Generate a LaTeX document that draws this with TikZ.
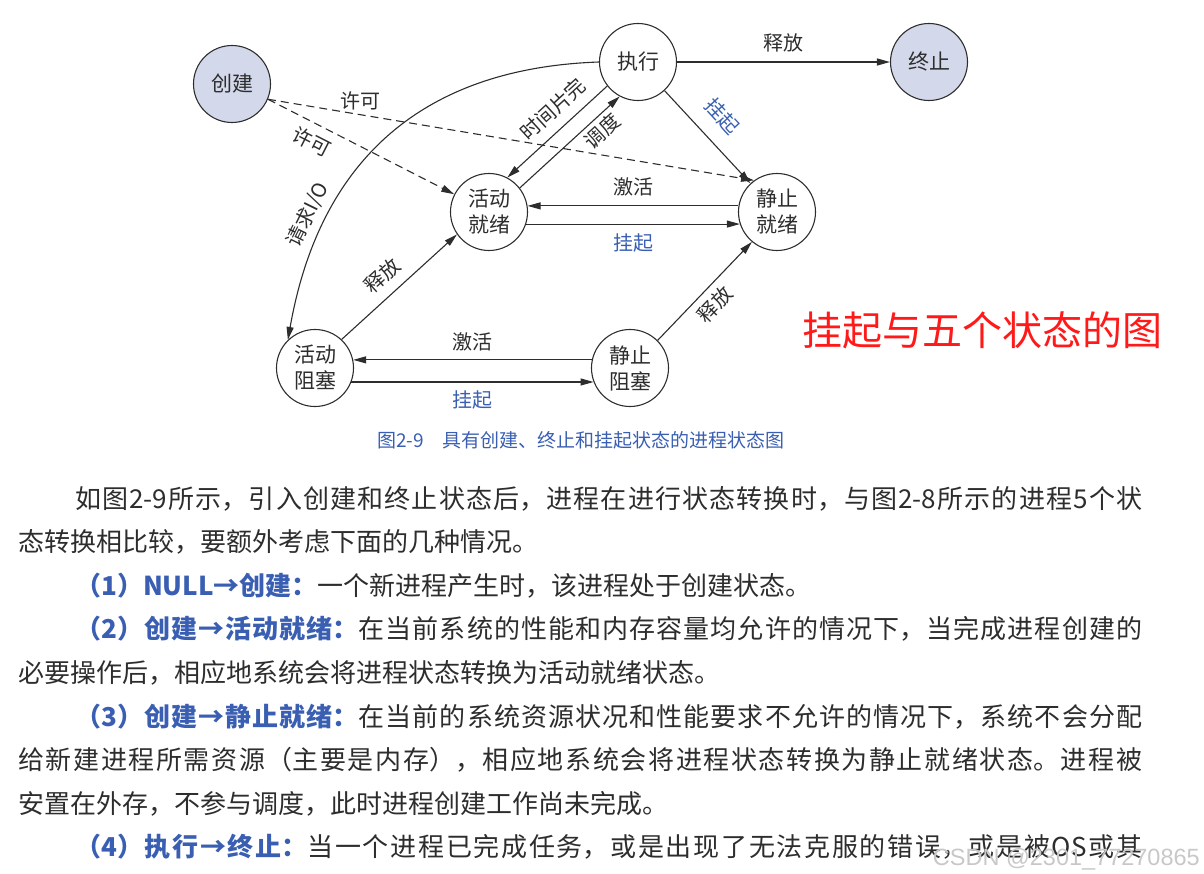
\documentclass[tikz,border=0pt]{standalone}
\usepackage{fontspec}
\setmainfont{Noto Sans CJK SC}
\newfontfamily\wmfont{Liberation Sans}
\usepackage{xcolor}
\usetikzlibrary{arrows.meta, positioning}

\XeTeXlinebreaklocale "zh"
\XeTeXlinebreakskip=0.6pt plus 4pt

\definecolor{linegray}{RGB}{45,45,45}
\definecolor{textgray}{RGB}{45,45,45}
\definecolor{nodeblue}{RGB}{211,217,235}
\definecolor{labelblue}{RGB}{58,95,178}
\definecolor{titlered}{RGB}{255,25,25}
\definecolor{wmgray}{RGB}{200,200,200}

\newcommand{\hi}[1]{{\bfseries\color{labelblue}#1}}

\begin{document}
\begin{tikzpicture}[x=1pt, y=-1pt,
    proc/.style={circle, draw=linegray, line width=1.1pt, minimum size=77pt, inner sep=0pt,
        align=center, text=textgray, font=\fontsize{21}{26}\selectfont},
    procfill/.style={proc, fill=nodeblue},
    arr/.style={draw=linegray, line width=1.1pt, -{Triangle[length=13pt,width=7pt]}},
    permit/.style={arr, dash pattern=on 8pt off 5pt},
    lab/.style={text=textgray, inner sep=1pt, font=\fontsize{20}{24}\selectfont},
    blab/.style={lab, text=labelblue},
    riga/.style={anchor=base west, inner sep=0pt, text=textgray, font=\fontsize{26}{30}\selectfont},
    rigapiena/.style={riga, text width=#1, align=justify}]
    \useasboundingbox (0,0) rectangle (1204,874);

    % Stati
    \node[procfill] (crea) at (232,84) {创建};
    \node[proc] (exec) at (638,62) {执行};
    \node[procfill] (fine) at (929,62) {终止};
    \node[proc] (actready) at (489,212) {活动\\就绪};
    \node[proc] (stready) at (777,212) {静止\\就绪};
    \node[proc] (actblock) at (315,368) {活动\\阻塞};
    \node[proc] (stblock) at (630,368) {静止\\阻塞};

    % Transizioni
    \draw[arr] (exec) -- node[lab, above=8pt] (ril1) {释放} (fine);
    \draw[arr] (exec) -- node[blab, sloped, above=14pt, pos=0.46] (sosp1) {挂起} (stready);
    \draw[arr] (exec.218) -- node[lab, sloped, above=9pt, pos=0.41] (quanto) {时间片完} (actready.62);
    \draw[arr] (actready.38) -- node[lab, sloped, below=3pt, pos=0.73] (sched) {调度} (exec.242);
    \draw[arr] (stready.171) -- node[lab, above=8pt] (att1) {激活} (actready.9);
    \draw[arr] (actready.-18) -- node[blab, below=8pt] (sosp2) {挂起} (stready.198);
    \draw[arr] (stblock.168) -- node[lab, above=7pt] (att2) {激活} (actblock.12);
    \draw[arr] (actblock.-21) -- node[blab, below=7pt] (sosp3) {挂起} (stblock.201);
    \draw[arr] (actblock.47) -- node[lab, sloped, above=9pt, pos=0.47] (ril2) {释放} (actready.215);
    \draw[arr] (stblock.45) -- node[lab, sloped, below=6pt, pos=0.48] (ril3) {释放} (stready.230);
    \draw[arr] (exec.west) to[out=182, in=80, looseness=1.1]
        node[lab, sloped, above=7pt, pos=0.75] (io) {请求I/O} (actblock.134);

    % Permessi (tratteggiati)
    \draw[permit] (crea.-23) -- node[lab, above=3pt, pos=0.19] (perm1) {许可} (stready.126);
    \draw[permit] (crea.-23) -- node[lab, sloped, below=7pt, pos=0.28] (perm2) {许可} (actready);

    % Didascalia e titolo
    \node[text=labelblue, font=\fontsize{19}{23}\selectfont] (cap) at (581,440)
        {图2-9\quad 具有创建、终止和挂起状态的进程状态图};
    \node[text=titlered, font=\fontsize{40}{46}\selectfont] (title) at (982,330) {挂起与五个状态的图};

    % Testo
    \node[rigapiena=1067pt] (p1) at (75,508) {\parfillskip=0pt\relax\noindent
        如图2-9所示，引入创建和终止状态后，进程在进行状态转换时，与图2-8所示的进程5个状\par};
    \node[riga] (p2) at (18,551.6) {态转换相比较，要额外考虑下面的几种情况。};
    \node[riga] (p3) at (75,595.2) {\hi{（1）NULL→创建：}一个新进程产生时，该进程处于创建状态。};
    \node[rigapiena=1067pt] (p4) at (75,638.8) {\parfillskip=0pt\relax\noindent
        \hi{（2）创建→活动就绪：}在当前系统的性能和内存容量均允许的情况下，当完成进程创建的\par};
    \node[riga] (p5) at (18,682.4) {必要操作后，相应地系统会将进程状态转换为活动就绪状态。};
    \node[rigapiena=1067pt] (p6) at (75,726) {\parfillskip=0pt\relax\noindent
        \hi{（3）创建→静止就绪：}在当前的系统资源状况和性能要求不允许的情况下，系统不会分配\par};
    \node[rigapiena=1124pt] (p7) at (18,769.6) {\parfillskip=0pt\relax\noindent
        给新建进程所需资源（主要是内存），相应地系统会将进程状态转换为静止就绪状态。进程被\par};
    \node[riga] (p8) at (18,813.2) {安置在外存，不参与调度，此时进程创建工作尚未完成。};
    \node[rigapiena=1067pt] (p9) at (75,856.8) {\parfillskip=0pt\relax\noindent
        \hi{（4）执行→终止：}当一个进程已完成任务，或是出现了无法克服的错误，或是被OS或其\par};

    \node[anchor=base east, inner sep=0pt, text=wmgray, font=\wmfont\fontsize{23.5}{28}\selectfont]
        (wm) at (1200,865) {CSDN @2301\_77270865};
\end{tikzpicture}
\end{document}
